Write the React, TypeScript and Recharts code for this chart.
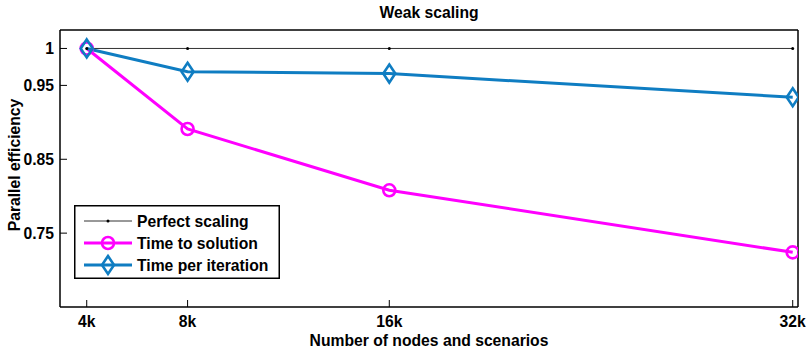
import React from "react";
import { LineChart, Line, XAxis, YAxis, Legend } from "recharts";

// values (x in thousands)
const nodes = [4, 8, 16, 32];
const perfectScaling = [1, 1, 1, 1];
const timeToSolution = [1, 0.891, 0.808, 0.724];
const timePerIteration = [1, 0.9685, 0.966, 0.934];
const xTicks = [4, 8, 16, 32];
const yTicks = [0.75, 0.85, 0.95, 1];
const legendOrder = ["perfect", "solution", "iteration"];

const data = nodes.map((n, i) => ({
  n,
  perfect: perfectScaling[i],
  solution: timeToSolution[i],
  iteration: timePerIteration[i],
}));

const FONT = "'Liberation Sans', Arial, Helvetica, sans-serif";
const FS = 15.7;
const MAGENTA = "#ff00ff";
const BLUE = "#0f7dc2";

const tickStyle = { fill: "#000", fontSize: FS, fontWeight: 700, fontFamily: FONT };

const Diamond = (props: any) => {
  const { cx, cy, stroke } = props;
  if (cx == null || cy == null) return null;
  return (
    <polygon
      points={`${cx},${cy - 9} ${cx + 6},${cy} ${cx},${cy + 9} ${cx - 6},${cy}`}
      fill="none"
      stroke={stroke}
      strokeWidth={2.6}
    />
  );
};

const renderLegend = (props: any) => {
  const payload = [...(props.payload || [])].sort(
    (a: any, b: any) => legendOrder.indexOf(a.dataKey) - legendOrder.indexOf(b.dataKey)
  );
  return (
    <svg width={206} height={74} style={{ display: "block" }}>
      <rect x={0.75} y={0.75} width={204.5} height={72.5} fill="#fff" stroke="#000" strokeWidth={1.5} />
      {payload.map((entry: any, i: number) => {
        const cy = 16 + i * 22;
        const key = entry.dataKey;
        const color = key === "perfect" ? "#333" : key === "solution" ? MAGENTA : BLUE;
        return (
          <g key={key}>
            <line x1={10} x2={58} y1={cy} y2={cy} stroke={color} strokeWidth={key === "perfect" ? 1 : 3} />
            {key === "perfect" && <circle cx={34} cy={cy} r={1.5} fill="#000" />}
            {key === "solution" && <circle cx={34} cy={cy} r={6} fill="none" stroke={color} strokeWidth={2.6} />}
            {key === "iteration" && <Diamond cx={34} cy={cy} stroke={color} />}
            <text x={63} y={cy + 5.5} fontSize={FS} fontWeight={700} fontFamily={FONT} fill="#000">
              {entry.value}
            </text>
          </g>
        );
      })}
    </svg>
  );
};

export default function App() {
  return (
    <div style={{ position: "absolute", left: 0, top: 0, background: "#fff" }}>
      <LineChart width={807} height={354} data={data} margin={{ top: 29, right: 8, bottom: 0, left: 0 }}>
        <XAxis
          xAxisId="bottom"
          dataKey="n"
          type="number"
          domain={[2.94, 32.21]}
          allowDataOverflow
          ticks={xTicks}
          tickFormatter={(v: number) => `${v}k`}
          height={47}
          tickSize={-7}
          tickMargin={16}
          tick={tickStyle}
          axisLine={{ stroke: "#000", strokeWidth: 1.5 }}
          tickLine={{ stroke: "#000" }}
          label={{
            value: "Number of nodes and scenarios",
            position: "insideBottom",
            offset: 8,
            style: { fill: "#000", fontSize: FS, fontWeight: 700, fontFamily: FONT },
          }}
        />
        <XAxis
          xAxisId="top"
          orientation="top"
          dataKey="n"
          type="number"
          domain={[2.94, 32.21]}
          allowDataOverflow
          ticks={xTicks}
          height={1}
          tick={false}
          tickSize={-7}
          axisLine={{ stroke: "#000", strokeWidth: 1.5 }}
          tickLine={{ stroke: "#000" }}
          label={{
            value: "Weak scaling",
            position: "top",
            offset: 11,
            style: { fill: "#000", fontSize: FS, fontWeight: 700, fontFamily: FONT },
          }}
        />
        <YAxis
          yAxisId="left"
          type="number"
          domain={[0.65, 1.025]}
          allowDataOverflow
          ticks={yTicks}
          tickFormatter={(v: number) => String(v)}
          width={60}
          tickSize={-7}
          tickMargin={13}
          tick={tickStyle}
          axisLine={{ stroke: "#000", strokeWidth: 1.5 }}
          tickLine={{ stroke: "#000" }}
          label={{
            content: () => (
              <text
                x={20}
                y={165}
                transform="rotate(-90 20 165)"
                textAnchor="middle"
                fontSize={FS}
                fontWeight={700}
                fontFamily={FONT}
                fill="#000"
              >
                Parallel efficiency
              </text>
            ),
          }}
        />
        <YAxis
          yAxisId="right"
          orientation="right"
          type="number"
          domain={[0.65, 1.025]}
          allowDataOverflow
          ticks={yTicks}
          width={1}
          tick={false}
          tickSize={-7}
          axisLine={{ stroke: "#000", strokeWidth: 1.5 }}
          tickLine={{ stroke: "#000" }}
        />
        <Legend
          layout="vertical"
          align="center"
          verticalAlign="middle"
          content={renderLegend}
          wrapperStyle={{ left: 74, top: 205, width: 206, height: 74 }}
        />
        <Line
          xAxisId="bottom"
          yAxisId="left"
          dataKey="perfect"
          name="Perfect scaling"
          stroke="#333"
          strokeWidth={1}
          dot={{ r: 1.5, fill: "#000", stroke: "none" }}
          isAnimationActive={false}
        />
        <Line
          xAxisId="bottom"
          yAxisId="left"
          dataKey="solution"
          name="Time to solution"
          stroke={MAGENTA}
          strokeWidth={3}
          dot={{ r: 6, fill: "none", stroke: MAGENTA, strokeWidth: 2.6 }}
          isAnimationActive={false}
        />
        <Line
          xAxisId="bottom"
          yAxisId="left"
          dataKey="iteration"
          name="Time per iteration"
          stroke={BLUE}
          strokeWidth={3}
          dot={<Diamond stroke={BLUE} />}
          isAnimationActive={false}
        />
      </LineChart>
    </div>
  );
}
